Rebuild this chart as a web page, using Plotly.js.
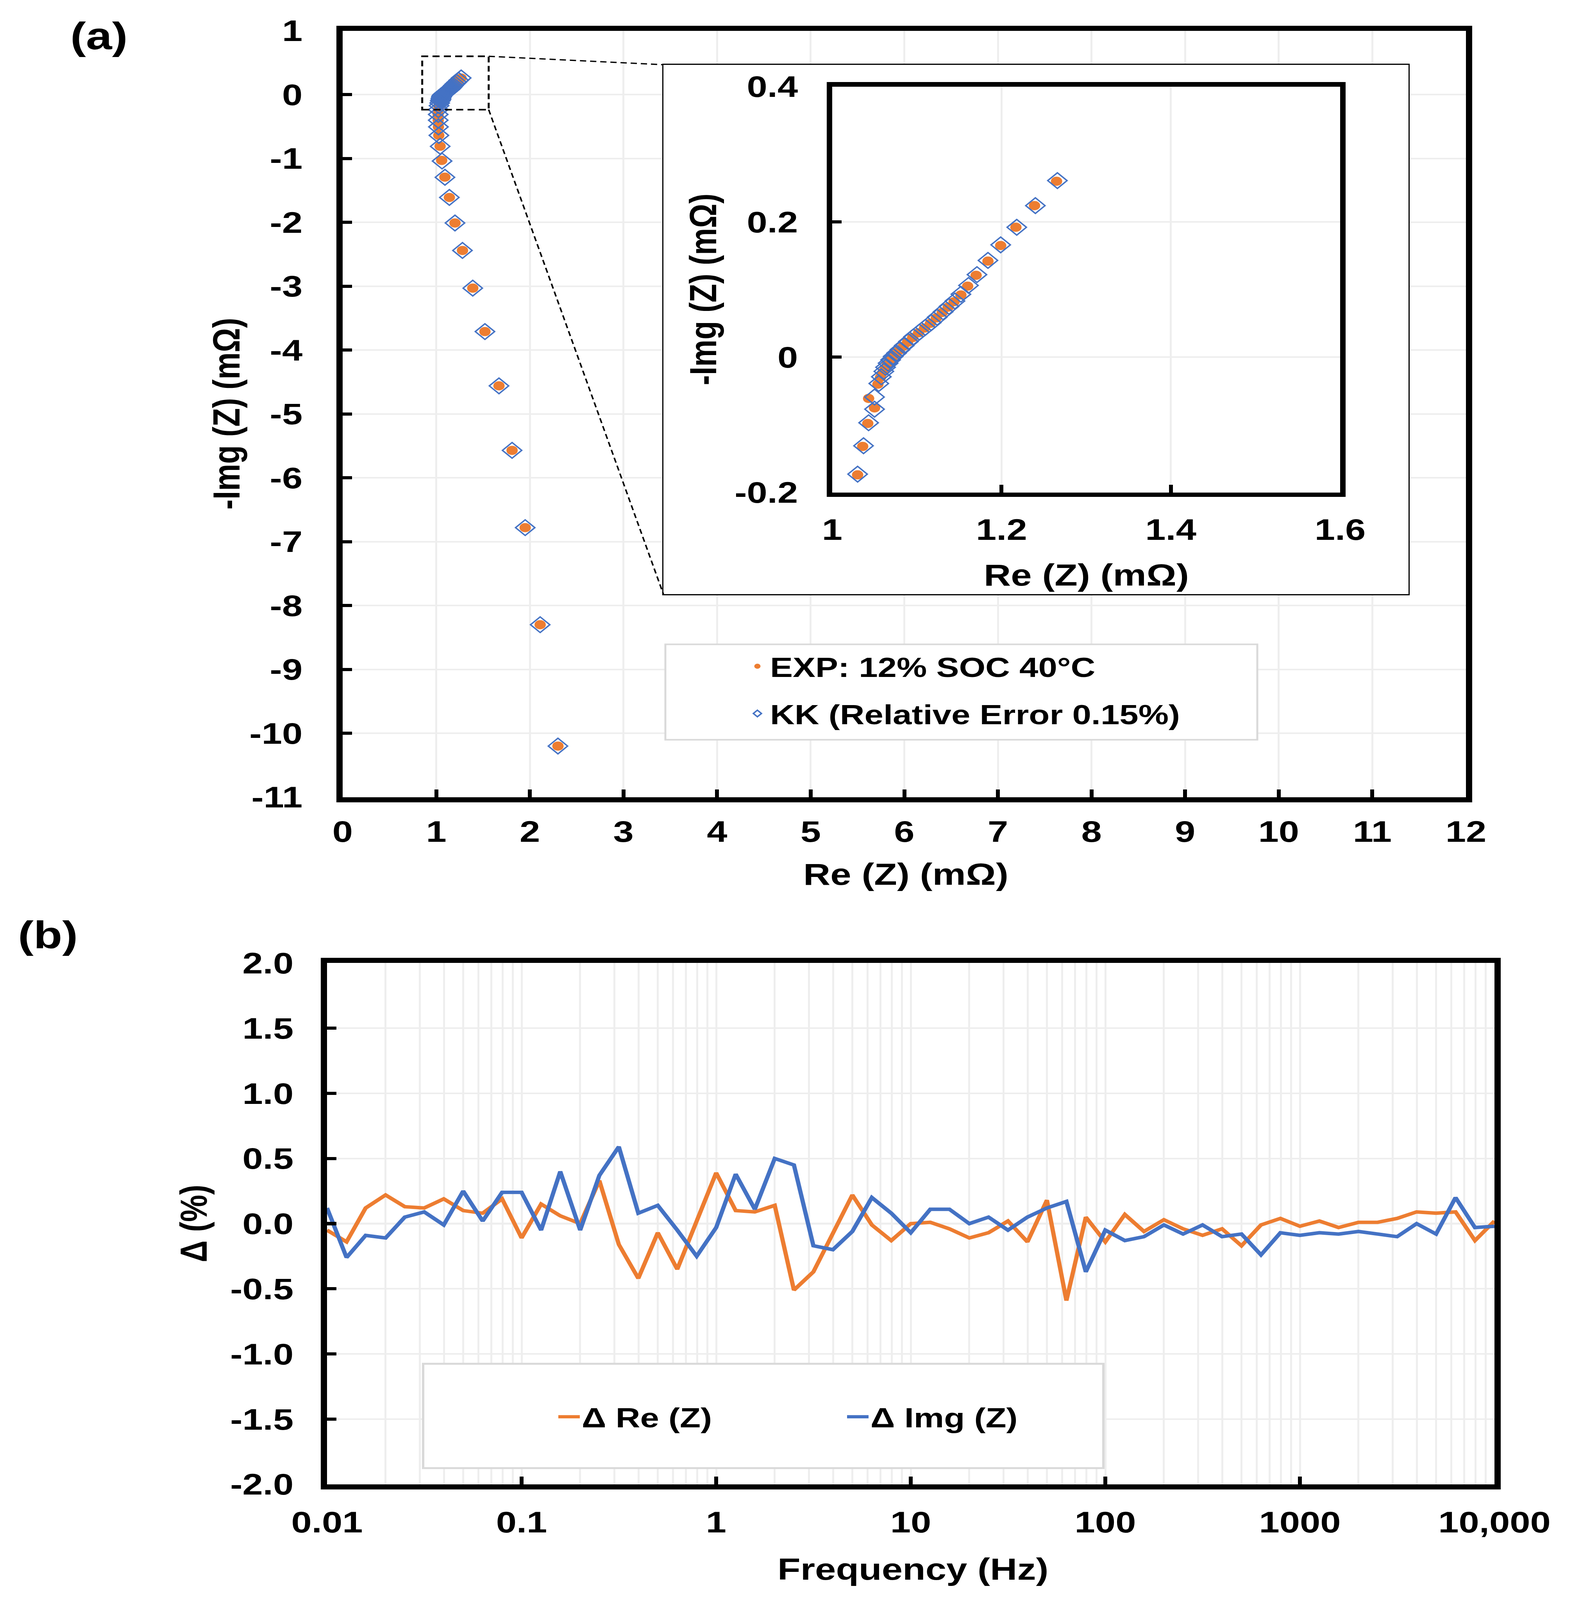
<!DOCTYPE html>
<html>
<head>
<meta charset="utf-8">
<script src="https://cdn.plot.ly/plotly-3.0.1.min.js"></script>
<style>
  html, body { margin: 0; padding: 0; background: #fff; overflow: hidden; }
  #chart { width: 4026px; height: 5046px; transform-origin: 0 0; }
</style>
</head>
<body>
<div id="chart"></div>
<script>
'use strict';

// ── (a) Nyquist data, mΩ (high frequency at the top of the list) ──
const expRe = [1.265, 1.239, 1.217, 1.199, 1.184, 1.170, 1.160, 1.152, 1.144, 1.137,
               1.130, 1.123, 1.116, 1.109, 1.102, 1.095, 1.089, 1.084, 1.079, 1.075,
               1.071, 1.068, 1.065, 1.063, 1.060, 1.057, 1.054, 1.043, 1.050, 1.042,
               1.036, 1.030, 1.022, 1.020, 1.021, 1.023, 1.027, 1.041, 1.058, 1.092,
               1.14, 1.20, 1.28, 1.39, 1.52, 1.67, 1.81, 1.95, 2.11, 2.30];
const expIm = [0.260, 0.224, 0.192, 0.165, 0.142, 0.121, 0.105, 0.092, 0.082, 0.074,
               0.066, 0.058, 0.050, 0.043, 0.036, 0.029, 0.022, 0.016, 0.010, 0.005,
               0.000, -0.005, -0.010, -0.016, -0.022, -0.030, -0.040, -0.061, -0.075, -0.098,
               -0.132, -0.174, -0.235, -0.31, -0.40, -0.505, -0.638, -0.808, -1.03, -1.292,
               -1.61, -2.01, -2.44, -3.03, -3.71, -4.56, -5.57, -6.78, -8.30, -10.2];
const kkRe  = [1.266, 1.240, 1.218, 1.199, 1.184, 1.171, 1.161, 1.152, 1.145, 1.138,
               1.131, 1.124, 1.117, 1.110, 1.103, 1.096, 1.090, 1.085, 1.080, 1.076,
               1.072, 1.069, 1.066, 1.063, 1.061, 1.058, 1.055, 1.050, 1.050, 1.043,
               1.037, 1.030, 1.022, 1.021, 1.021, 1.023, 1.028, 1.042, 1.062, 1.093,
               1.14, 1.20, 1.28, 1.39, 1.52, 1.67, 1.81, 1.95, 2.11, 2.30];
const kkIm  = [0.261, 0.224, 0.192, 0.166, 0.143, 0.122, 0.106, 0.093, 0.083, 0.075,
               0.067, 0.059, 0.051, 0.044, 0.037, 0.030, 0.023, 0.017, 0.011, 0.006,
               0.001, -0.004, -0.009, -0.015, -0.021, -0.029, -0.039, -0.059, -0.077, -0.097,
               -0.131, -0.173, -0.235, -0.31, -0.40, -0.505, -0.638, -0.81, -1.04, -1.295,
               -1.61, -2.01, -2.44, -3.03, -3.71, -4.56, -5.57, -6.78, -8.30, -10.2];

// ── (b) residuals vs frequency ──
const freqHz = [0.01, 0.0126, 0.0158, 0.02, 0.0251, 0.0316, 0.0398, 0.0501, 0.0631, 0.0794,
                0.1, 0.126, 0.158, 0.2, 0.251, 0.316, 0.398, 0.501, 0.631, 0.794,
                1, 1.26, 1.58, 2, 2.51, 3.16, 3.98, 5.01, 6.31, 7.94,
                10, 12.6, 15.8, 20, 25.1, 31.6, 39.8, 50.1, 63.1, 79.4,
                100, 126, 158, 200, 251, 316, 398, 501, 631, 794,
                1000, 1260, 1580, 2000, 2510, 3160, 3980, 5010, 6310, 7940, 10000];
const deltaRe = [-0.05, -0.14, 0.12, 0.22, 0.13, 0.12, 0.19, 0.10, 0.08, 0.19,
                 -0.11, 0.15, 0.06, 0.00, 0.33, -0.16, -0.42, -0.07, -0.35, 0.02,
                 0.39, 0.10, 0.09, 0.14, -0.51, -0.37, -0.08, 0.22, -0.01, -0.13,
                 0.00, 0.01, -0.04, -0.11, -0.07, 0.02, -0.14, 0.18, -0.59, 0.05,
                 -0.14, 0.07, -0.06, 0.03, -0.04, -0.09, -0.04, -0.17, -0.01, 0.04,
                 -0.02, 0.02, -0.03, 0.01, 0.01, 0.04, 0.09, 0.08, 0.09, -0.13, 0.02];
const deltaImg = [0.12, -0.26, -0.09, -0.11, 0.05, 0.09, -0.01, 0.25, 0.02, 0.24,
                  0.24, -0.05, 0.40, -0.05, 0.37, 0.59, 0.08, 0.14, -0.05, -0.25,
                  -0.03, 0.38, 0.11, 0.50, 0.45, -0.17, -0.20, -0.06, 0.20, 0.08,
                  -0.07, 0.11, 0.11, 0.00, 0.05, -0.05, 0.05, 0.12, 0.17, -0.37,
                  -0.05, -0.13, -0.10, -0.01, -0.08, -0.01, -0.10, -0.08, -0.24, -0.07,
                  -0.09, -0.07, -0.08, -0.06, -0.08, -0.10, 0.00, -0.08, 0.20, -0.03, -0.02];

// axis ticks / labels
const mainXTicks = [0, 1, 2, 3, 4, 5, 6, 7, 8, 9, 10, 11, 12];
const mainYTicks = [1, 0, -1, -2, -3, -4, -5, -6, -7, -8, -9, -10, -11];
const insetXTicks = [1, 1.2, 1.4, 1.6];
const insetYTicks = [0.4, 0.2, 0, -0.2];
const freqTicks = [0.01, 0.1, 1, 10, 100, 1000, 10000];
const freqLabels = ['0.01', '0.1', '1', '10', '100', '1000', '10,000'];
const deltaTicks = [2, 1.5, 1, 0.5, 0, -0.5, -1, -1.5, -2];

// zoom window drawn on the main plot
const zoomBox = { x0: 0.85, x1: 1.56, y0: -0.235, y1: 0.60 };

const W = 4026, H = 5046;
const ORANGE = '#ED7D31', BLUE = '#4472C4', GRID = '#EEEEEE';
const FONT = 'Liberation Sans, Arial, sans-serif';
const px2x = p => p / W, px2y = p => 1 - p / H;

// the window may be shorter than the figure: squeeze the whole figure to fit
const fitY = Math.min(1, (window.innerHeight || H) / H);
document.getElementById('chart').style.transform = 'scale(1,' + fitY + ')';

// plot areas in pixels [left, right, top, bottom]
const A = [877, 3752, 97, 2514];
const BOX = [1698, 3605, 204, 1874];
const INS = [2130, 3430, 273, 1553];
const B = [837, 3825, 3037, 4681];
const dom = r => ({ x: [px2x(r[0]), px2x(r[1])], y: [px2y(r[3]), px2y(r[2])] });

const tickFont = { family: FONT, size: 94, color: '#000', weight: 700 };
const titleFont = { family: FONT, size: 96, color: '#000', weight: 700 };
const legendFont = { family: FONT, size: 87, color: '#000', weight: 700 };

function frameAxis(extra) {
    return Object.assign({
        showline: true, linecolor: '#000', linewidth: 16, mirror: true,
        ticks: 'inside', ticklen: 24, tickwidth: 10, tickcolor: '#000',
        showgrid: true, gridcolor: GRID, gridwidth: 5, zeroline: false,
        tickmode: 'array', tickfont: tickFont, fixedrange: true
    }, extra);
}

const dA = dom(A), dBox = dom(BOX), dIns = dom(INS), dB = dom(B);

// box corners expressed in main-plot data units (for connector lines)
const toMainX = p => (p - A[0]) / (A[1] - A[0]) * 12;
const toMainY = p => 1 - (p - A[2]) / (A[3] - A[2]) * 12;

const expMarker = { symbol: 'circle', size: 29, color: ORANGE };
const kkMarker = { symbol: 'diamond-open', size: 38, color: BLUE, line: { color: BLUE, width: 4 } };

const data = [
    { x: expRe, y: expIm, type: 'scatter', mode: 'markers', name: 'EXP: 12% SOC 40°C',
      marker: expMarker, legend: 'legend', legendgroup: 'a1' },
    { x: kkRe, y: kkIm, type: 'scatter', mode: 'markers', name: 'KK (Relative Error 0.15%)',
      marker: kkMarker, legend: 'legend', legendgroup: 'a2' },
    // empty subplot that carries the white inset frame
    { x: [null], y: [null], type: 'scatter', mode: 'markers', xaxis: 'x2', yaxis: 'y2', showlegend: false },
    { x: expRe, y: expIm, type: 'scatter', mode: 'markers', xaxis: 'x3', yaxis: 'y3', showlegend: false, marker: expMarker },
    { x: kkRe, y: kkIm, type: 'scatter', mode: 'markers', xaxis: 'x3', yaxis: 'y3', showlegend: false, marker: kkMarker },
    { x: freqHz, y: deltaRe, type: 'scatter', mode: 'lines', xaxis: 'x4', yaxis: 'y4', name: 'Δ Re (Z)',
      line: { color: ORANGE, width: 11 }, legend: 'legend2' },
    { x: freqHz, y: deltaImg, type: 'scatter', mode: 'lines', xaxis: 'x4', yaxis: 'y4', name: 'Δ Img (Z)',
      line: { color: BLUE, width: 11 }, legend: 'legend2' }
];

const frameOnly = { range: [0, 1], showline: true, linecolor: '#000', linewidth: 3, mirror: true,
    showgrid: false, zeroline: false, showticklabels: false, ticks: '', fixedrange: true };

const layout = {
    width: W, height: H,
    margin: { l: 0, r: 0, t: 0, b: 0 },
    paper_bgcolor: '#fff', plot_bgcolor: '#fff',
    font: { family: FONT, color: '#000', weight: 700 },
    showlegend: true,

    xaxis: frameAxis({ domain: dA.x, anchor: 'y', range: [0, 12], tickvals: mainXTicks,
        ticktext: mainXTicks.map(String), ticklabelstandoff: 12 }),
    yaxis: frameAxis({ domain: dA.y, anchor: 'x', range: [-11, 1], tickvals: mainYTicks,
        ticktext: mainYTicks.map(String), ticklabelstandoff: 68 }),

    xaxis2: Object.assign({ domain: dBox.x, anchor: 'y2' }, frameOnly),
    yaxis2: Object.assign({ domain: dBox.y, anchor: 'x2' }, frameOnly),

    xaxis3: frameAxis({ domain: dIns.x, anchor: 'y3', range: [1, 1.6], tickvals: insetXTicks,
        ticktext: insetXTicks.map(String), linewidth: 14, ticklabelstandoff: 23 }),
    yaxis3: frameAxis({ domain: dIns.y, anchor: 'x3', range: [-0.2, 0.4], tickvals: insetYTicks,
        ticktext: insetYTicks.map(String), linewidth: 14, ticklabelstandoff: 55 }),

    xaxis4: frameAxis({ domain: dB.x, anchor: 'y4', type: 'log', range: [-2, 4], tickvals: freqTicks,
        ticktext: freqLabels, ticklabelstandoff: 23,
        minor: { tickmode: 'linear', dtick: 'D1', showgrid: true, gridcolor: GRID, gridwidth: 5, ticks: '' } }),
    yaxis4: frameAxis({ domain: dB.y, anchor: 'x4', range: [-2, 2], tickvals: deltaTicks,
        ticktext: deltaTicks.map(v => v.toFixed(1)), ticklabelstandoff: 51 }),

    legend: {
        x: px2x(1906), y: px2y(2038), xanchor: 'left', yanchor: 'top',
        bgcolor: 'rgba(0,0,0,0)', borderwidth: 0, tracegroupgap: 33, itemwidth: 55,
        font: legendFont
    },
    legend2: {
        orientation: 'h', x: px2x(1424), y: px2y(4405), xanchor: 'left', yanchor: 'top',
        bgcolor: 'rgba(0,0,0,0)', borderwidth: 0, itemwidth: 55,
        entrywidth: 669, entrywidthmode: 'pixels', font: legendFont
    },

    shapes: [
        // dashed zoom window and connectors
        { type: 'rect', xref: 'x', yref: 'y', x0: zoomBox.x0, x1: zoomBox.x1, y0: zoomBox.y0, y1: zoomBox.y1,
          line: { color: '#000', width: 5, dash: '18px,11px' } },
        { type: 'line', xref: 'x', yref: 'y', x0: zoomBox.x1, y0: zoomBox.y1, x1: toMainX(BOX[0]), y1: toMainY(BOX[2]),
          line: { color: '#000', width: 4, dash: '16px,10px' } },
        { type: 'line', xref: 'x', yref: 'y', x0: zoomBox.x1, y0: zoomBox.y0, x1: toMainX(BOX[0]), y1: toMainY(BOX[3]),
          line: { color: '#000', width: 4, dash: '16px,10px' } },
        // legend frames
        { type: 'rect', xref: 'paper', yref: 'paper', layer: 'above',
          x0: px2x(1703), x1: px2x(3218), y0: px2y(2333), y1: px2y(2032),
          fillcolor: '#fff', line: { color: '#D9D9D9', width: 5 } },
        { type: 'rect', xref: 'paper', yref: 'paper', layer: 'above',
          x0: px2x(1083), x1: px2x(2824), y0: px2y(4630), y1: px2y(4301),
          fillcolor: '#fff', line: { color: '#D9D9D9', width: 6 } }
    ],

    annotations: [
        { text: '(a)', xref: 'paper', yref: 'paper', x: px2x(254), y: px2y(113), showarrow: false,
          xanchor: 'center', yanchor: 'middle', font: { family: FONT, size: 120, color: '#000', weight: 700 } },
        { text: '(b)', xref: 'paper', yref: 'paper', x: px2x(122), y: px2y(2948), showarrow: false,
          xanchor: 'center', yanchor: 'middle', font: { family: FONT, size: 120, color: '#000', weight: 700 } },
        { text: 'Re (Z) (mΩ)', xref: 'paper', yref: 'paper', x: px2x(2318), y: px2y(2756), showarrow: false,
          xanchor: 'center', yanchor: 'middle', font: titleFont },
        { text: '-Img (Z) (mΩ)', xref: 'paper', yref: 'paper', x: px2x(580), y: px2y(1305), showarrow: false,
          textangle: -90, xanchor: 'center', yanchor: 'middle', font: titleFont },
        { text: 'Re (Z) (mΩ)', xref: 'paper', yref: 'paper', x: px2x(2780), y: px2y(1814), showarrow: false,
          xanchor: 'center', yanchor: 'middle', font: titleFont },
        { text: '-Img (Z) (mΩ)', xref: 'paper', yref: 'paper', x: px2x(1799), y: px2y(913), showarrow: false,
          textangle: -90, xanchor: 'center', yanchor: 'middle', font: titleFont },
        { text: 'Frequency (Hz)', xref: 'paper', yref: 'paper', x: px2x(2336), y: px2y(4948), showarrow: false,
          xanchor: 'center', yanchor: 'middle', font: titleFont },
        { text: 'Δ (%)', xref: 'paper', yref: 'paper', x: px2x(495), y: px2y(3859), showarrow: false,
          textangle: -90, xanchor: 'center', yanchor: 'middle', font: titleFont }
    ]
};

Plotly.newPlot('chart', data, layout, { displayModeBar: false, staticPlot: true });
</script>
</body>
</html>
